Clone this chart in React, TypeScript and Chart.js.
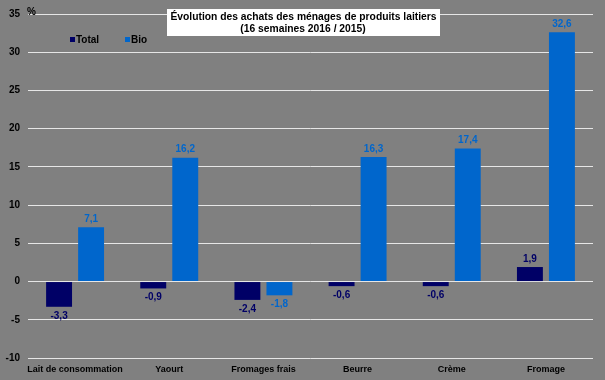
import React, { useEffect, useRef } from "react";
import { Chart, registerables } from "chart.js";

Chart.register(...registerables);

const categories = ["Lait de consommation", "Yaourt", "Fromages frais", "Beurre", "Crème", "Fromage"];
const totalValues = [-3.3, -0.9, -2.4, -0.6, -0.6, 1.9];
const bioValues = [7.1, 16.2, -1.8, 16.3, 17.4, 32.6];
const titleLines = ["Évolution des achats des ménages de produits laitiers", "(16 semaines 2016 / 2015)"];
const seriesNames = ["Total", "Bio"];
const yMin = -10;
const yMax = 35;
const yStep = 5;

const FONT = "'Liberation Sans', Arial, sans-serif";
const TOTAL_COLOR = "#000066";
const BIO_COLOR = "#0066cc";

export default function App() {
  const ref = useRef<HTMLCanvasElement>(null);

  useEffect(() => {
    document.body.style.margin = "0";
    document.body.style.background = "#808080";
    const canvas = ref.current!;

    const decorPlugin = {
      id: "decor",
      afterDatasetsDraw(chart: any) {
        const ctx = chart.ctx;
        ctx.save();
        // data labels
        ctx.font = `bold 10px ${FONT}`;
        ctx.textAlign = "center";
        ctx.textBaseline = "middle";
        chart.data.datasets.forEach((ds: any, di: number) => {
          const meta = chart.getDatasetMeta(di);
          meta.data.forEach((el: any, i: number) => {
            const v = ds.data[i] as number;
            const txt = v.toFixed(1).replace(".", ",");
            ctx.fillStyle = ds.labelColor;
            const y = v >= 0 ? el.y - 8 : el.y + 9;
            ctx.fillText(txt, el.x, y);
          });
        });
        // % label
        ctx.fillStyle = "#000";
        ctx.textAlign = "left";
        ctx.font = `bold 10px ${FONT}`;
        ctx.fillText("%", 27, 12);
        // legend
        const legend = [
          { x: 70, name: seriesNames[0], color: TOTAL_COLOR },
          { x: 125, name: seriesNames[1], color: BIO_COLOR },
        ];
        legend.forEach((l) => {
          ctx.fillStyle = l.color;
          ctx.fillRect(l.x, 37, 5, 5);
          ctx.fillStyle = "#000";
          ctx.fillText(l.name, l.x + 6, 40);
        });
        // title box
        ctx.fillStyle = "#ffffff";
        ctx.fillRect(167, 9, 273, 27);
        ctx.fillStyle = "#000";
        ctx.textAlign = "center";
        ctx.font = `bold 10.3px ${FONT}`;
        ctx.fillText(titleLines[0], 303.5, 17.5);
        ctx.fillText(titleLines[1], 303, 29);
        ctx.restore();
      },
    };

    const chart = new Chart(canvas, {
      type: "bar",
      data: {
        labels: categories,
        datasets: [
          {
            label: seriesNames[0],
            data: totalValues,
            backgroundColor: TOTAL_COLOR,
            labelColor: TOTAL_COLOR,
            categoryPercentage: 0.68,
            barPercentage: 0.81,
          } as any,
          {
            label: seriesNames[1],
            data: bioValues,
            backgroundColor: BIO_COLOR,
            labelColor: BIO_COLOR,
            categoryPercentage: 0.68,
            barPercentage: 0.81,
          } as any,
        ],
      },
      options: {
        animation: false,
        responsive: false,
        maintainAspectRatio: false,
        layout: { padding: { left: 0, right: 12, top: 12, bottom: 0 } },
        plugins: {
          legend: { display: false },
          title: { display: false },
          tooltip: { enabled: false },
        },
        scales: {
          x: {
            grid: { display: false, drawTicks: false },
            border: { display: false },
            ticks: {
              color: "#000",
              font: { family: FONT, size: 9, weight: "bold" },
              padding: 6,
              maxRotation: 0,
              autoSkip: false,
            },
            afterFit: (s: any) => {
              s.height = 22;
            },
          },
          y: {
            min: yMin,
            max: yMax,
            grid: { color: "#e6e6e6", lineWidth: 1, drawTicks: false },
            border: { display: false },
            ticks: {
              stepSize: yStep,
              color: "#000",
              font: { family: FONT, size: 10, weight: "bold" },
              padding: 8,
            },
            afterFit: (s: any) => {
              s.width = 28;
            },
          },
        },
      },
      plugins: [decorPlugin],
    });
    return () => chart.destroy();
  }, []);

  return (
    <div style={{ width: 605, height: 380, background: "#808080" }}>
      <canvas ref={ref} width={605} height={380} style={{ display: "block" }} />
    </div>
  );
}
